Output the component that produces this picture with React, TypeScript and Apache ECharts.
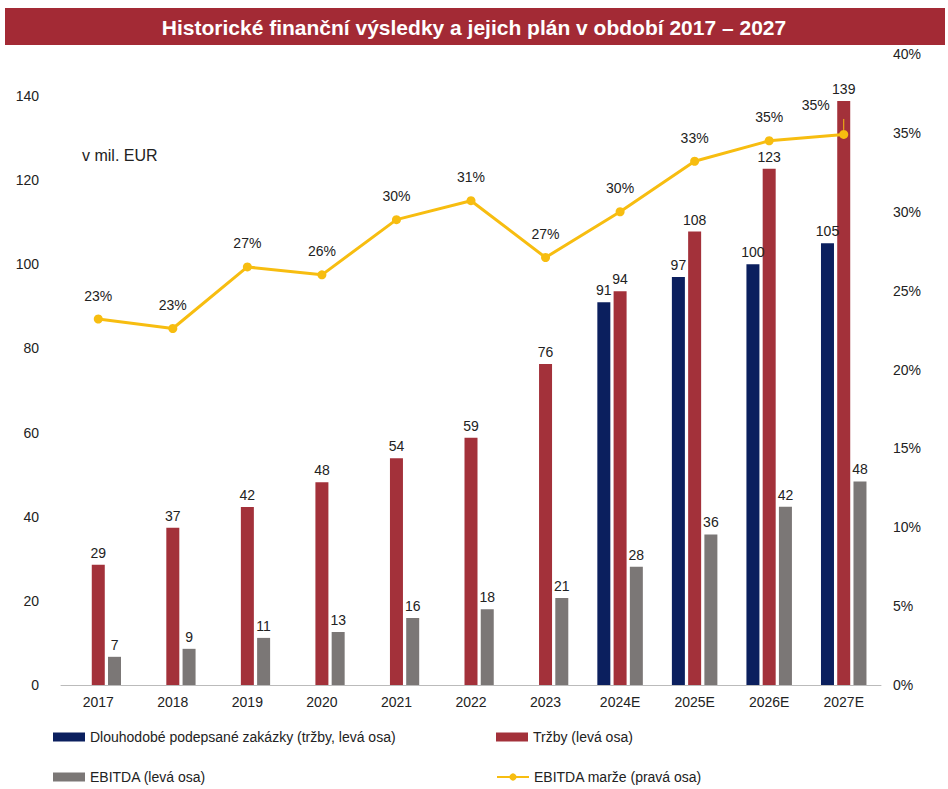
import React, { useEffect, useRef } from 'react'
import * as echarts from 'echarts'

const years = ['2017', '2018', '2019', '2020', '2021', '2022', '2023', '2024E', '2025E', '2026E', '2027E']
const contracts = [null, null, null, null, null, null, null, 91, 97, 100, 105]
const revenue = [28.6, 37.4, 42.3, 48.2, 53.9, 58.8, 76.3, 93.6, 107.8, 122.7, 138.8]
const ebitda = [6.7, 8.6, 11.2, 12.6, 15.9, 18, 20.7, 28.1, 35.8, 42.4, 48.4]
const margin = [23.2, 22.6, 26.5, 26.0, 29.5, 30.7, 27.1, 30.0, 33.2, 34.5, 34.9]

const FONT = "'Liberation Sans', Arial, sans-serif"
const NAVY = '#0b1f5e'
const RED = '#a3313a'
const GRAY = '#7b7776'
const YELLOW = '#f7bd10'

function App() {
  const ref = useRef<HTMLDivElement>(null)
  useEffect(() => {
    const chart = echarts.init(ref.current as HTMLDivElement, undefined, { renderer: 'svg' })
    const lbl = { show: true, position: 'top', color: '#222', fontSize: 14, fontFamily: FONT, formatter: (p: any) => Math.round(p.value) }
    const legendBase = { itemWidth: 32, itemHeight: 9, textStyle: { fontSize: 14, fontFamily: FONT, color: '#222' } }
    chart.setOption({
      animation: false,
      textStyle: { fontFamily: FONT },
      grid: { left: 61, right: 67, top: 54, bottom: 104 },
      xAxis: {
        type: 'category', data: years,
        axisLine: { lineStyle: { color: '#bbb' } }, axisTick: { show: false },
        axisLabel: { color: '#222', fontSize: 14, margin: 10 },
      },
      yAxis: [
        {
          type: 'value', min: 0, max: 150, interval: 20, splitLine: { show: false },
          axisLabel: { color: '#222', fontSize: 14, margin: 22, formatter: (v: number) => (v > 140 ? '' : String(v)) },
        },
        {
          type: 'value', min: 0, max: 40, interval: 5, splitLine: { show: false },
          axisLabel: { color: '#222', fontSize: 14, margin: 12, formatter: '{value}%' },
        },
      ],
      legend: [
        { ...legendBase, left: 48, top: 725, icon: 'rect', data: ['Dlouhodobé podepsané zakázky (tržby, levá osa)'] },
        { ...legendBase, left: 491, top: 725, icon: 'rect', data: ['Tržby (levá osa)'] },
        { ...legendBase, left: 48, top: 765, icon: 'rect', data: ['EBITDA (levá osa)'] },
        { ...legendBase, left: 491, top: 765, data: ['EBITDA marže (pravá osa)'] },
      ],
      graphic: [
        { type: 'rect', shape: { x: 5, y: 8, width: 940, height: 37 }, style: { fill: '#a32a35' } },
        {
          type: 'text', x: 474, y: 27,
          style: { text: 'Historické finanční výsledky a jejich plán v období 2017 – 2027', fill: '#fff', font: "bold 21px 'Liberation Sans Narrow', 'Liberation Sans', Arial", align: 'center', verticalAlign: 'middle' },
        },
        { type: 'text', x: 82, y: 147, style: { text: 'v mil. EUR', fill: '#222', font: `16px ${FONT}` } },
      ],
      series: [
        { name: 'Dlouhodobé podepsané zakázky (tržby, levá osa)', type: 'bar', data: contracts, barWidth: 13, barGap: '25%', itemStyle: { color: NAVY }, label: lbl },
        { name: 'Tržby (levá osa)', type: 'bar', data: revenue, barWidth: 13, barGap: '25%', itemStyle: { color: RED }, label: lbl },
        { name: 'EBITDA (levá osa)', type: 'bar', data: ebitda, barWidth: 13, barGap: '25%', itemStyle: { color: GRAY }, label: lbl },
        {
          name: 'EBITDA marže (pravá osa)', type: 'line', yAxisIndex: 1,
          data: margin.map((v, i) => i === margin.length - 1
            ? { value: v, label: { offset: [-28, -6] }, labelLine: { show: true } }
            : v),
          symbol: 'circle', symbolSize: 9, lineStyle: { color: YELLOW, width: 3 }, itemStyle: { color: YELLOW },
          label: { show: true, position: 'top', distance: 12, color: '#222', fontSize: 14, formatter: (p: any) => Math.round(p.value) + '%' },
        },
      ],
    })
    return () => chart.dispose()
  }, [])
  return <div ref={ref} style={{ position: 'fixed', left: 0, top: 0, width: 948, height: 789, background: '#fff' }} />
}

export default App
